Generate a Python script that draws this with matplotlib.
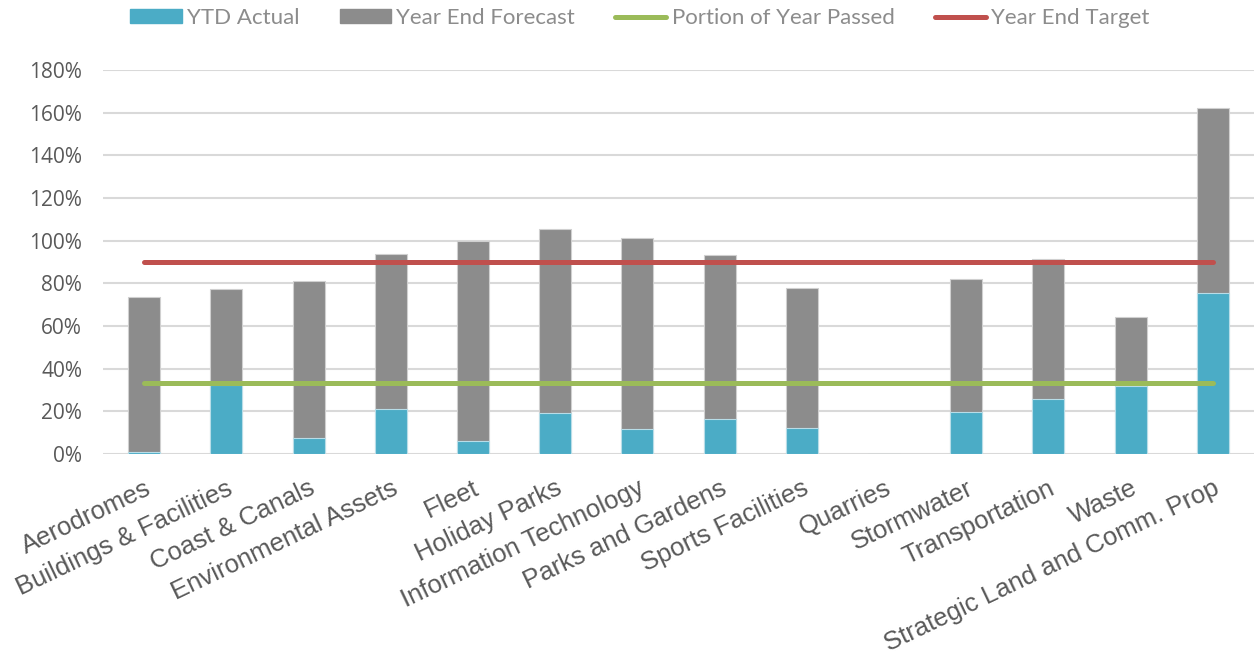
import numpy as np
import matplotlib.pyplot as plt
from matplotlib.patches import Patch
from matplotlib.lines import Line2D
from matplotlib.ticker import PercentFormatter

categories = ['Aerodromes', 'Buildings & Facilities', 'Coast & Canals',
              'Environmental Assets', 'Fleet', 'Holiday Parks',
              'Information Technology', 'Parks and Gardens', 'Sports Facilities',
              'Quarries', 'Stormwater', 'Transportation', 'Waste',
              'Strategic Land and Comm. Prop']
ytd_actual = [1.1, 32.2, 7.5, 21.2, 6.0, 19.3, 11.8, 16.6, 12.4, 0.0, 19.9, 25.6, 32.0, 75.4]
year_end_forecast = [73.5, 77.4, 80.9, 93.9, 100.0, 105.6, 101.3, 93.4, 77.8, 0.0, 82.1, 91.4, 64.1, 162.3]
portion_year_passed = 33.3
year_end_target = 90.0

C_BLUE = '#4BACC6'
C_GRAY = '#8C8C8C'
C_GREEN = '#9BBB59'
C_RED = '#C0504D'
C_TXT = '#595959'

fig = plt.figure(figsize=(12.55, 6.56), dpi=100)
ax = fig.add_axes([103 / 1255, 1 - 454 / 656, 1151 / 1255, 384 / 656])

x = np.arange(len(categories))
w = 0.39
ax.bar(x, year_end_forecast, w, color=C_GRAY, edgecolor='#D0D0D0', linewidth=0.8, zorder=2)
ax.bar(x, ytd_actual, w, color=C_BLUE, edgecolor='#B8DDE8', linewidth=0.8, zorder=3)
ax.plot(x, [portion_year_passed] * len(x), color=C_GREEN, lw=3.6,
        solid_capstyle='round', zorder=4)
ax.plot(x, [year_end_target] * len(x), color=C_RED, lw=3.6,
        solid_capstyle='round', zorder=4)

ax.set_xlim(-0.5, len(x) - 0.5)
ax.set_ylim(0, 180)
ax.set_yticks(np.arange(0, 181, 20))
ax.yaxis.set_major_formatter(PercentFormatter(decimals=0))
ax.grid(axis='y', color='#D9D9D9', lw=1.5, zorder=0)
ax.set_axisbelow(True)
for s in ax.spines.values():
    s.set_visible(False)
ax.tick_params(length=0)
ax.tick_params(axis='y', labelsize=15, labelcolor=C_TXT, pad=15)
for lab in ax.get_yticklabels():
    lab.set_family('Open Sans')

ax.set_xticks(x)
ax.set_xticklabels(categories, rotation=25.5, ha='right', va='top', rotation_mode='anchor',
                   fontsize=18.5, color=C_TXT, family='Liberation Sans')
ax.tick_params(axis='x', pad=16)

handles = [Patch(color=C_BLUE), Patch(color=C_GRAY),
           Line2D([], [], color=C_GREEN, lw=3.6, solid_capstyle='round'),
           Line2D([], [], color=C_RED, lw=3.6, solid_capstyle='round')]
labels = ['YTD Actual', 'Year End Forecast', 'Portion of Year Passed', 'Year End Target']
leg = fig.legend(handles, labels, loc='center', bbox_to_anchor=(640 / 1255, 1 - 18 / 656),
                 ncol=4, frameon=False, handlelength=2.3, handleheight=0.6,
                 handletextpad=0.25, columnspacing=1.8,
                 prop={'family': 'Lato', 'size': 16})
for t in leg.get_texts():
    t.set_color('#8C8C8C')

fig.savefig('out.png', dpi=100)
